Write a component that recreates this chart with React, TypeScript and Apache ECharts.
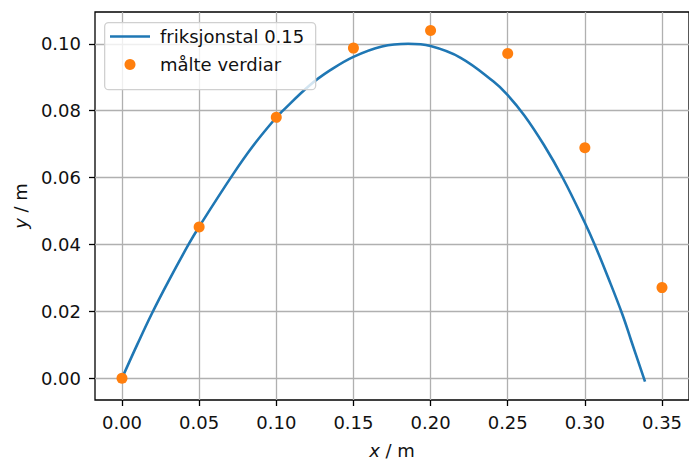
import React, { useEffect, useRef } from "react";
import * as echarts from "echarts";

// Simulated trajectory ("friksjonstal 0.15")
const curveX = [0, 0.01, 0.0193, 0.03, 0.0435, 0.05, 0.0717, 0.085, 0.1, 0.1036, 0.1217, 0.135, 0.15, 0.1685, 0.1855, 0.2, 0.2195, 0.2408, 0.2497, 0.2609, 0.2734, 0.2858, 0.3, 0.3066, 0.315, 0.3244, 0.33, 0.339];
const curveY = [0, 0.0102, 0.0193, 0.0289, 0.0403, 0.0453, 0.0608, 0.0695, 0.078, 0.0797, 0.0876, 0.0921, 0.0961, 0.0992, 0.1, 0.0993, 0.0958, 0.0887, 0.0848, 0.0785, 0.0698, 0.0598, 0.0465, 0.0397, 0.0302, 0.019, 0.0113, -0.001];

// Measured values ("målte verdiar")
const pointX = [0, 0.05, 0.1, 0.15, 0.2, 0.25, 0.3, 0.35];
const pointY = [0, 0.0452, 0.078, 0.0987, 0.104, 0.0971, 0.0689, 0.0271];

const xTicks = [0, 0.05, 0.1, 0.15, 0.2, 0.25, 0.3, 0.35];
const yTicks = [0, 0.02, 0.04, 0.06, 0.08, 0.1];

const lineName = "friksjonstal 0.15";
const pointName = "målte verdiar";

const FONT = "DejaVu Sans";
const FS = 18;

export default function App() {
  const ref = useRef<HTMLDivElement>(null);
  useEffect(() => {
    if (!ref.current) return;
    const chart = echarts.init(ref.current, null, { renderer: "svg" });
    const axisCommon = {
      type: "value",
      axisLine: { show: false, onZero: false },
      axisTick: { show: true, inside: false, length: 6, lineStyle: { color: "#000", width: 1.3 } },
      splitLine: { show: true, lineStyle: { color: "#b0b0b0", width: 1.3 } },
      nameTextStyle: {
        fontSize: FS,
        fontFamily: FONT,
        color: "#111",
        rich: { i: { fontStyle: "italic", fontSize: FS, fontFamily: FONT, color: "#111" } },
      },
    };
    chart.setOption({
      animation: false,
      backgroundColor: "#fff",
      grid: {
        left: 95,
        top: 12,
        right: -10,
        bottom: 57,
        show: true,
        borderColor: "#000",
        borderWidth: 1.3,
        backgroundColor: "transparent",
        containLabel: false,
      },
      xAxis: {
        ...axisCommon,
        min: -0.0175,
        max: 0.3675,
        name: "{i|x} / m",
        nameLocation: "middle",
        nameGap: 41,
        axisTick: { ...axisCommon.axisTick, customValues: xTicks },
        axisLabel: {
          customValues: xTicks,
          margin: 13,
          fontSize: FS,
          fontFamily: FONT,
          color: "#111",
          formatter: (v: number) => v.toFixed(2),
        },
      },
      yAxis: {
        ...axisCommon,
        min: -0.0065,
        max: 0.1095,
        name: "{i|y} / m",
        nameLocation: "middle",
        nameRotate: 90,
        nameGap: 66,
        axisTick: { ...axisCommon.axisTick, customValues: yTicks },
        axisLabel: {
          customValues: yTicks,
          margin: 14,
          fontSize: FS,
          fontFamily: FONT,
          color: "#111",
          formatter: (v: number) => v.toFixed(2),
        },
      },
      graphic: [
        {
          type: "rect",
          left: 104,
          top: 22,
          z: 20,
          shape: { width: 211, height: 67, r: 4 },
          style: { fill: "rgba(255,255,255,0.8)", stroke: "#d0d0d0", lineWidth: 1.3 },
        },
      ],
      legend: {
        show: true,
        orient: "vertical",
        left: 110,
        top: 26.5,
        padding: 0,
        itemWidth: 40,
        itemHeight: 11,
        itemGap: 8,
        z: 30,
        symbolKeepAspect: true,
        textStyle: {
          fontSize: FS,
          fontFamily: FONT,
          color: "#111",
          lineHeight: 20,
          padding: [0, 0, 0, 5],
        },
        data: [
          { name: lineName, icon: "path://M0,0H40V2.6H0Z" },
          { name: pointName, icon: "circle" },
        ],
      },
      series: [
        {
          name: lineName,
          type: "line",
          data: curveX.map((x, i) => [x, curveY[i]]),
          symbol: "none",
          smooth: 0.4,
          lineStyle: { color: "#1f77b4", width: 2.6 },
          itemStyle: { color: "#1f77b4" },
          z: 3,
        },
        {
          name: pointName,
          type: "scatter",
          data: pointX.map((x, i) => [x, pointY[i]]),
          symbol: "circle",
          symbolSize: 11,
          itemStyle: { color: "#ff7f0e", opacity: 1 },
          z: 4,
        },
      ],
    });
    return () => chart.dispose();
  }, []);
  return (
    <div
      ref={ref}
      style={{ position: "fixed", left: 0, top: 0, width: 689, height: 464, background: "#fff" }}
    />
  );
}
